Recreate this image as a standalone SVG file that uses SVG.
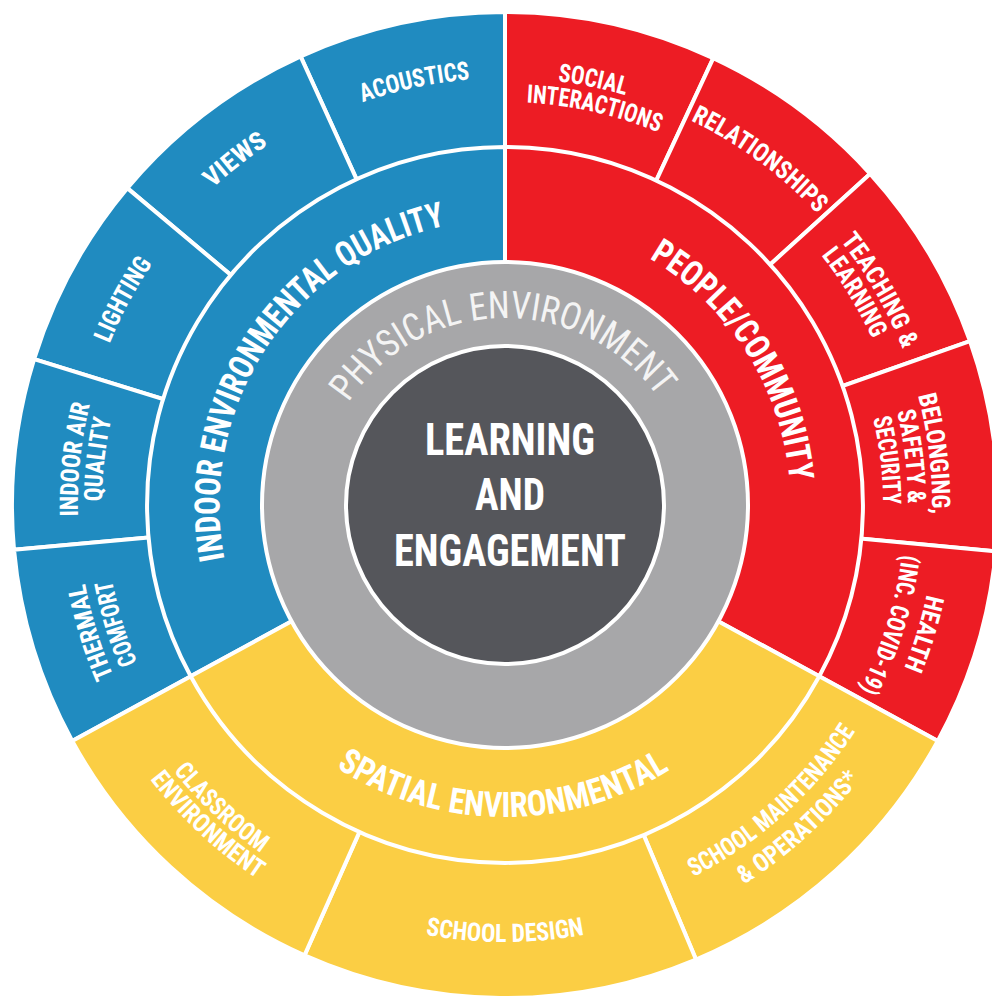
<svg xmlns="http://www.w3.org/2000/svg" width="992" height="998" viewBox="0 0 992 998">
<style>
.seg{stroke:#fff;stroke-width:4;stroke-linejoin:round}
.blue{fill:#208BC0}.red{fill:#ED1C24}.yellow{fill:#FBCE44}
.gray{fill:#A7A7A9;stroke:#fff;stroke-width:4}
.dark{fill:#55565B;stroke:#fff;stroke-width:4}
.t{font-family:'Roboto Condensed','Liberation Sans Narrow','DejaVu Sans Condensed','Liberation Sans',sans-serif;font-stretch:condensed;font-weight:700;fill:#fff;font-size:25.5px;text-anchor:middle}
.m{font-size:35px}
.ph{font-weight:400;font-size:38px;fill:#F4F4F4}
.core{font-size:44px}
</style>
<defs>
<path id="o427" d="M505,78A427,427 0 1 1 505,932A427,427 0 1 1 505,78"/>
<path id="o431" d="M505,74A431,431 0 1 1 505,936A431,431 0 1 1 505,74"/>
<path id="o403" d="M505,102A403,403 0 1 1 505,908A403,403 0 1 1 505,102"/>
<path id="o400" d="M505,105A400,400 0 1 1 505,905A400,400 0 1 1 505,105"/>
<path id="o378" d="M505,127A378,378 0 1 1 505,883A378,378 0 1 1 505,127"/>
<path id="o285" d="M505,219.5A285.5,285.5 0 1 1 505,790.5A285.5,285.5 0 1 1 505,219.5"/>
<path id="phys" d="M505,692A187,187 0 1 1 505,318A187,187 0 1 1 505,692"/>
<path id="i425" d="M505,80A425,425 0 1 0 505,930A425,425 0 1 0 505,80"/>
<path id="i448" d="M505,56.5A448.5,448.5 0 1 0 505,953.5A448.5,448.5 0 1 0 505,56.5"/>
<path id="i437" d="M505,68A437,437 0 1 0 505,942A437,437 0 1 0 505,68"/>
<path id="i417" d="M505,88A417,417 0 1 0 505,922A417,417 0 1 0 505,88"/>
<path id="i312" d="M505,193A312,312 0 1 0 505,817A312,312 0 1 0 505,193"/>
</defs>

<g id="outer-ring">
<g id="acoustics">
<path class="seg blue" d="M505,505L300.6,56.4A493,493 0 0 1 505,12Z"/>
<text class="t"><textPath href="#o427" startOffset="96.64%" textLength="110" lengthAdjust="spacingAndGlyphs">ACOUSTICS</textPath></text>
</g>
<g id="views">
<path class="seg blue" d="M505,505L127.3,188.1A493,493 0 0 1 300.6,56.4Z"/>
<text class="t"><textPath href="#o431" startOffset="89.44%" textLength="71" lengthAdjust="spacingAndGlyphs">VIEWS</textPath></text>
</g>
<g id="lighting">
<path class="seg blue" d="M505,505L34.1,359.2A493,493 0 0 1 127.3,188.1Z"/>
<text class="t"><textPath href="#o427" startOffset="82.86%" textLength="91" lengthAdjust="spacingAndGlyphs">LIGHTING</textPath></text>
</g>
<g id="indoor-air-quality">
<path class="seg blue" d="M505,505L14,549.7A493,493 0 0 1 34.1,359.2Z"/>
<text class="t"><textPath href="#o427" startOffset="76.68%" textLength="113" lengthAdjust="spacingAndGlyphs">INDOOR AIR</textPath></text>
<text class="t"><textPath href="#o403" startOffset="76.78%" textLength="83" lengthAdjust="spacingAndGlyphs">QUALITY</textPath></text>
</g>
<g id="thermal-comfort">
<path class="seg blue" d="M505,505L72.2,740.9A493,493 0 0 1 14,549.7Z"/>
<text class="t"><textPath href="#o427" startOffset="70.25%" textLength="97" lengthAdjust="spacingAndGlyphs">THERMAL</textPath></text>
<text class="t"><textPath href="#o400" startOffset="70.28%" textLength="86" lengthAdjust="spacingAndGlyphs">COMFORT</textPath></text>
</g>
<g id="social-interactions">
<path class="seg red" d="M505,505L505,12A493,493 0 0 1 713.3,58.2Z"/>
<text class="t"><textPath href="#o427" startOffset="3.26%" textLength="69" lengthAdjust="spacingAndGlyphs">SOCIAL</textPath></text>
<text class="t"><textPath href="#o403" startOffset="3.54%" textLength="136" lengthAdjust="spacingAndGlyphs">INTERACTIONS</textPath></text>
</g>
<g id="relationships">
<path class="seg red" d="M505,505L713.3,58.2A493,493 0 0 1 870.2,173.8Z"/>
<text class="t"><textPath href="#o427" startOffset="10.11%" textLength="158" lengthAdjust="spacingAndGlyphs">RELATIONSHIPS</textPath></text>
</g>
<g id="teaching-learning">
<path class="seg red" d="M505,505L870.2,173.8A493,493 0 0 1 970,341.2Z"/>
<text class="t"><textPath href="#o427" startOffset="16.72%" textLength="126" lengthAdjust="spacingAndGlyphs">TEACHING &amp;</textPath></text>
<text class="t"><textPath href="#o403" startOffset="16.30%" textLength="98" lengthAdjust="spacingAndGlyphs">LEARNING</textPath></text>
</g>
<g id="belonging-safety-security">
<path class="seg red" d="M505,505L970,341.2A493,493 0 0 1 995.8,551.4Z"/>
<text class="t"><textPath href="#o427" startOffset="23.11%" textLength="120" lengthAdjust="spacingAndGlyphs">BELONGING,</textPath></text>
<text class="t"><textPath href="#o403" startOffset="23.11%" textLength="93" lengthAdjust="spacingAndGlyphs">SAFETY &amp;</textPath></text>
<text class="t"><textPath href="#o378" startOffset="23.14%" textLength="87" lengthAdjust="spacingAndGlyphs">SECURITY</textPath></text>
</g>
<g id="health">
<path class="seg red" d="M505,505L995.8,551.4A493,493 0 0 1 937.8,740.9Z"/>
<text class="t"><textPath href="#o431" startOffset="29.75%" textLength="77" lengthAdjust="spacingAndGlyphs">HEALTH</textPath></text>
<text class="t"><textPath href="#o400" startOffset="29.81%" textLength="142" lengthAdjust="spacingAndGlyphs">(INC. COVID-19)</textPath></text>
</g>
<g id="school-maintenance">
<path class="seg yellow" d="M505,505L937.8,740.9A493,493 0 0 1 696,959.5Z"/>
<text class="t"><textPath href="#i417" startOffset="61.67%" textLength="220" lengthAdjust="spacingAndGlyphs">SCHOOL MAINTENANCE</textPath></text>
<text class="t"><textPath href="#i448" startOffset="61.75%" textLength="158" lengthAdjust="spacingAndGlyphs">&amp; OPERATIONS*</textPath></text>
</g>
<g id="school-design">
<path class="seg yellow" d="M505,505L696,959.5A493,493 0 0 1 304.5,955.4Z"/>
<text class="t"><textPath href="#i437" startOffset="50%" textLength="160" lengthAdjust="spacingAndGlyphs">SCHOOL DESIGN</textPath></text>
</g>
<g id="classroom-environment">
<path class="seg yellow" d="M505,505L304.5,955.4A493,493 0 0 1 72.2,740.9Z"/>
<text class="t"><textPath href="#i425" startOffset="38.01%" textLength="120" lengthAdjust="spacingAndGlyphs">CLASSROOM</textPath></text>
<text class="t"><textPath href="#i448" startOffset="38.08%" textLength="147" lengthAdjust="spacingAndGlyphs">ENVIRONMENT</textPath></text>
</g>
</g>

<g id="middle-ring">
<g id="indoor-environmental-quality">
<path class="seg blue" d="M505,505L190.7,676.3A358,358 0 0 1 505,147Z"/>
<text class="t m"><textPath href="#o285" startOffset="84.31%" textLength="443" lengthAdjust="spacingAndGlyphs">INDOOR ENVIRONMENTAL QUALITY</textPath></text>
</g>
<g id="people-community">
<path class="seg red" d="M505,505L505,147A358,358 0 0 1 819.3,676.3Z"/>
<text class="t m"><textPath href="#o285" startOffset="16.03%" textLength="273" lengthAdjust="spacingAndGlyphs">PEOPLE/COMMUNITY</textPath></text>
</g>
<g id="spatial-environmental">
<path class="seg yellow" d="M505,505L819.3,676.3A358,358 0 0 1 190.7,676.3Z"/>
<text class="t m"><textPath href="#i312" startOffset="49.89%" textLength="352" lengthAdjust="spacingAndGlyphs">SPATIAL ENVIRONMENTAL</textPath></text>
</g>
</g>

<g id="physical-environment">
<circle class="gray" cx="505" cy="505" r="243"/>
<text class="t ph"><textPath href="#phys" startOffset="49.72%" textLength="364" lengthAdjust="spacingAndGlyphs">PHYSICAL ENVIRONMENT</textPath></text>
</g>

<g id="learning-and-engagement">
<circle class="dark" cx="505" cy="505" r="159"/>
<text class="t core" x="510" y="455" textLength="170" lengthAdjust="spacingAndGlyphs">LEARNING</text>
<text class="t core" x="510" y="510" textLength="70" lengthAdjust="spacingAndGlyphs">AND</text>
<text class="t core" x="510" y="566" textLength="232" lengthAdjust="spacingAndGlyphs">ENGAGEMENT</text>
</g>

<g id="connectors"></g>
</svg>
